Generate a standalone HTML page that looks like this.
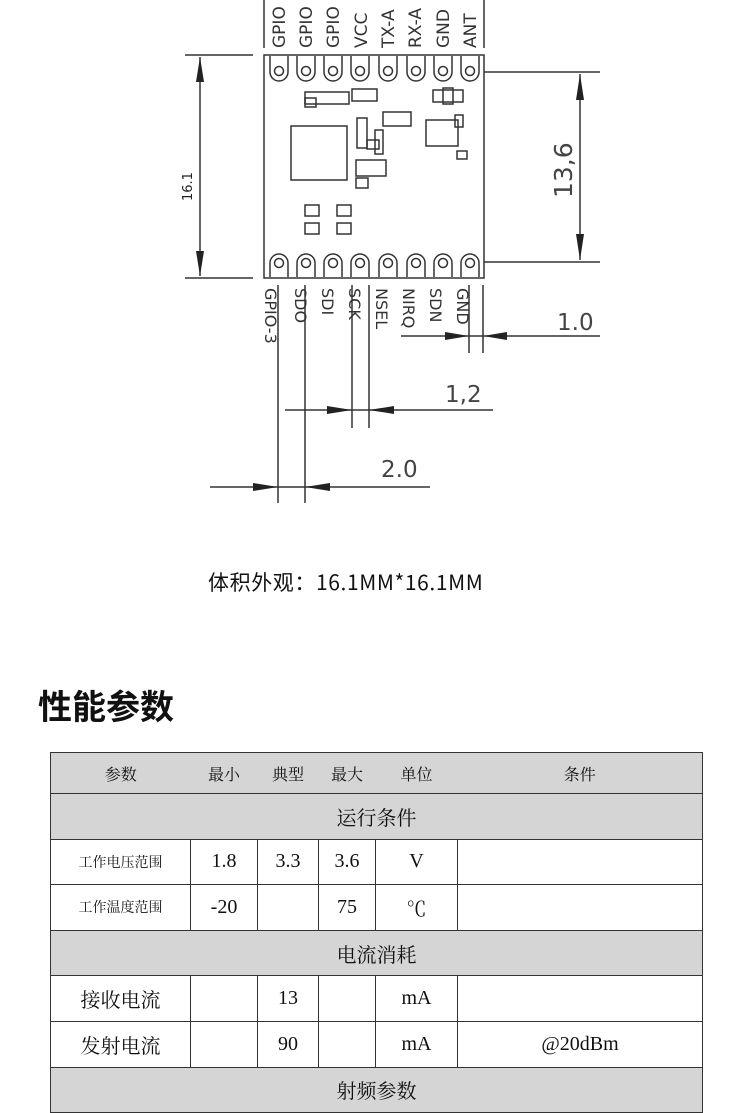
<!DOCTYPE html>
<html><head><meta charset="utf-8"><style>
body{margin:0;background:#fff;width:750px;height:1112px;overflow:hidden;position:relative;font-family:"Liberation Sans","Noto Sans CJK SC",sans-serif}
svg{position:absolute;left:0;top:0}
.cap{position:absolute;left:208px;top:567px;font-size:21px;letter-spacing:0.6px;color:#111;font-family:"Noto Sans CJK SC",sans-serif}
.h{position:absolute;left:38px;top:680px;font-size:34px;font-weight:bold;color:#111;font-family:"Noto Sans CJK SC",sans-serif}
table{position:absolute;left:50px;top:752px;width:653px;border-collapse:collapse;font-family:"Liberation Serif","Noto Serif CJK SC",serif;color:#111}
td{border:1.5px solid #333;text-align:center;height:44.6px;padding:0;font-size:20px}
.g td,td.g{background:#d5d5d5}
.hd td{border-left:none;border-right:none;font-size:16px;height:40px}
.sm{font-size:14px}
</style></head><body>
<svg width="750" height="560" viewBox="0 0 750 560" font-family="DejaVu Sans, Liberation Sans, sans-serif" stroke-linecap="butt">
<g stroke="#333" stroke-width="1.5" fill="none">
<rect x="264" y="55" width="220" height="223"/>
<line x1="185" y1="55" x2="253" y2="55"/><line x1="185" y1="278" x2="253" y2="278"/>
<line x1="200" y1="57" x2="200" y2="276"/>
<line x1="484" y1="72" x2="600" y2="72"/><line x1="484" y1="262" x2="600" y2="262"/>
<line x1="580" y1="74" x2="580" y2="260"/>
<line x1="278" y1="285" x2="278" y2="503"/><line x1="305" y1="285" x2="305" y2="503"/>
<line x1="352" y1="285" x2="352" y2="428"/><line x1="369" y1="285" x2="369" y2="428"/>
<line x1="469" y1="285" x2="469" y2="353"/><line x1="483" y1="285" x2="483" y2="353"/>
<line x1="401" y1="336" x2="600" y2="336"/>
<line x1="285" y1="410" x2="493" y2="410"/>
<line x1="210" y1="487" x2="430" y2="487"/>
<line x1="264" y1="0" x2="264" y2="48"/><line x1="484" y1="0" x2="484" y2="48"/>
<rect x="291" y="126" width="56" height="54"/>
<rect x="426" y="120" width="32" height="26"/>
<rect x="305" y="92" width="44" height="12"/><rect x="305" y="98" width="11" height="9"/><rect x="352" y="89" width="25" height="12"/>
<rect x="433" y="90" width="30" height="12"/><rect x="443" y="88" width="10" height="16"/>
<rect x="357" y="118" width="10" height="30"/><rect x="367" y="140" width="12" height="9"/>
<rect x="383" y="112" width="28" height="14"/><rect x="375" y="130" width="8" height="24"/>
<rect x="455" y="115" width="8" height="12"/><rect x="457" y="151" width="10" height="8"/>
<rect x="356" y="160" width="30" height="16"/><rect x="356" y="178" width="12" height="10"/>
<rect x="305" y="205" width="14" height="11"/><rect x="305" y="223" width="14" height="11"/>
<rect x="337" y="205" width="14" height="11"/><rect x="337" y="223" width="14" height="11"/>
</g>
<g stroke="#333" stroke-width="1.5" fill="none">
<path d="M270 56 v16 a9 9 0 0 0 18 0 v-16"/><circle cx="279" cy="71" r="4.5"/>
<path d="M297 56 v16 a9 9 0 0 0 18 0 v-16"/><circle cx="306" cy="71" r="4.5"/>
<path d="M324 56 v16 a9 9 0 0 0 18 0 v-16"/><circle cx="333" cy="71" r="4.5"/>
<path d="M351 56 v16 a9 9 0 0 0 18 0 v-16"/><circle cx="360" cy="71" r="4.5"/>
<path d="M379 56 v16 a9 9 0 0 0 18 0 v-16"/><circle cx="388" cy="71" r="4.5"/>
<path d="M407 56 v16 a9 9 0 0 0 18 0 v-16"/><circle cx="416" cy="71" r="4.5"/>
<path d="M434 56 v16 a9 9 0 0 0 18 0 v-16"/><circle cx="443" cy="71" r="4.5"/>
<path d="M461 56 v16 a9 9 0 0 0 18 0 v-16"/><circle cx="470" cy="71" r="4.5"/>
<path d="M270 277 v-14 a9 9 0 0 1 18 0 v14"/><circle cx="279" cy="263" r="4.5"/>
<path d="M297 277 v-14 a9 9 0 0 1 18 0 v14"/><circle cx="306" cy="263" r="4.5"/>
<path d="M324 277 v-14 a9 9 0 0 1 18 0 v14"/><circle cx="333" cy="263" r="4.5"/>
<path d="M351 277 v-14 a9 9 0 0 1 18 0 v14"/><circle cx="360" cy="263" r="4.5"/>
<path d="M379 277 v-14 a9 9 0 0 1 18 0 v14"/><circle cx="388" cy="263" r="4.5"/>
<path d="M407 277 v-14 a9 9 0 0 1 18 0 v14"/><circle cx="416" cy="263" r="4.5"/>
<path d="M434 277 v-14 a9 9 0 0 1 18 0 v14"/><circle cx="443" cy="263" r="4.5"/>
<path d="M461 277 v-14 a9 9 0 0 1 18 0 v14"/><circle cx="470" cy="263" r="4.5"/>
</g>
<g fill="#222">
<polygon points="200,57 196,82 204,82"/><polygon points="200,276 196,251 204,251"/>
<polygon points="580,74 576,100 584,100"/><polygon points="580,260 576,234 584,234"/>
<polygon points="469,336 445,332 445,340"/><polygon points="483,336 507,332 507,340"/>
<polygon points="352,410 327,406 327,414"/><polygon points="369,410 394,406 394,414"/>
<polygon points="278,487 253,483 253,491"/><polygon points="305,487 330,483 330,491"/>
</g>
<g fill="#333" font-size="17">
<text transform="translate(285,48) rotate(-90)">GPIO</text>
<text transform="translate(312,48) rotate(-90)">GPIO</text>
<text transform="translate(339,48) rotate(-90)">GPIO</text>
<text transform="translate(367,48) rotate(-90)">VCC</text>
<text transform="translate(394,48) rotate(-90)">TX-A</text>
<text transform="translate(421,48) rotate(-90)">RX-A</text>
<text transform="translate(449,48) rotate(-90)">GND</text>
<text transform="translate(476,48) rotate(-90)">ANT</text>
<text transform="translate(265,288) rotate(90)" font-size="16">GPIO-3</text>
<text transform="translate(295,288) rotate(90)" font-size="16">SDO</text>
<text transform="translate(322,288) rotate(90)" font-size="16">SDI</text>
<text transform="translate(349,288) rotate(90)" font-size="16">SCK</text>
<text transform="translate(376,288) rotate(90)" font-size="16">NSEL</text>
<text transform="translate(403,288) rotate(90)" font-size="16">NIRQ</text>
<text transform="translate(430,288) rotate(90)" font-size="16">SDN</text>
<text transform="translate(457,288) rotate(90)" font-size="16">GND</text>
<text transform="translate(192,201) rotate(-90)" font-size="13" fill="#222">16.1</text>
<text transform="translate(572,198) rotate(-90)" font-size="25" fill="#444">13,6</text>
<text x="557" y="330" font-size="23" fill="#444">1.0</text>
<text x="445" y="402" font-size="23" fill="#444">1,2</text>
<text x="381" y="477" font-size="23" fill="#444">2.0</text>
</g>
</svg>
<div class="cap">体积外观：16.1MM*16.1MM</div>
<div class="h">性能参数</div>
<table>
<colgroup><col style="width:140px"><col style="width:67px"><col style="width:61px"><col style="width:57px"><col style="width:82px"><col></colgroup>
<tr class="g hd"><td style="border-left:1.5px solid #333">参数</td><td>最小</td><td>典型</td><td>最大</td><td>单位</td><td style="border-right:1.5px solid #333">条件</td></tr>
<tr class="g"><td colspan="6">运行条件</td></tr>
<tr><td class="sm">工作电压范围</td><td>1.8</td><td>3.3</td><td>3.6</td><td>V</td><td></td></tr>
<tr><td class="sm">工作温度范围</td><td>-20</td><td></td><td>75</td><td>℃</td><td></td></tr>
<tr class="g"><td colspan="6">电流消耗</td></tr>
<tr><td>接收电流</td><td></td><td>13</td><td></td><td>mA</td><td></td></tr>
<tr><td>发射电流</td><td></td><td>90</td><td></td><td>mA</td><td>@20dBm</td></tr>
<tr class="g"><td colspan="6">射频参数</td></tr>
</table>
</body></html>
